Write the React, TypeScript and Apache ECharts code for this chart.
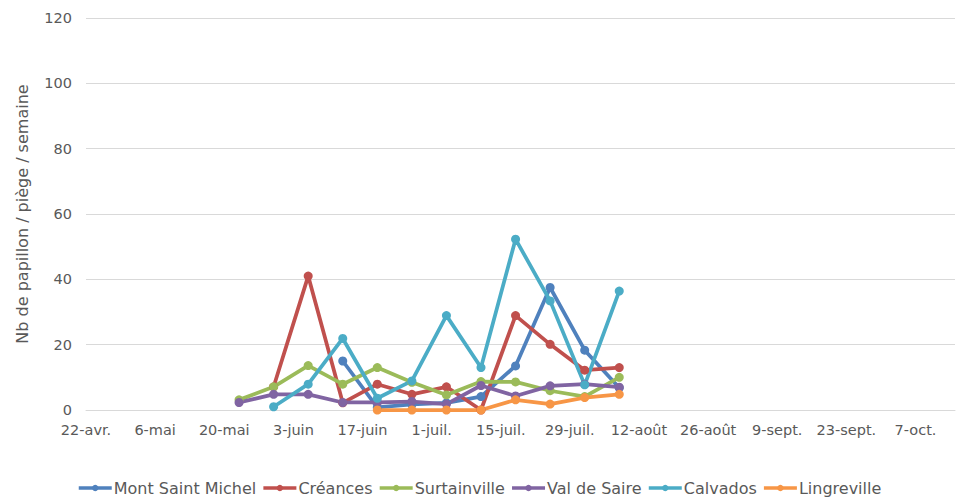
import React, { useEffect, useRef } from "react";
import * as echarts from "echarts";

const startDate = "2019-04-22";
const endDate = "2019-10-15";
const dates = [
  "2019-05-23", "2019-05-30", "2019-06-06", "2019-06-13", "2019-06-20", "2019-06-27",
  "2019-07-04", "2019-07-11", "2019-07-18", "2019-07-25", "2019-08-01", "2019-08-08",
];
const seriesNames = ["Mont Saint Michel", "Créances", "Surtainville", "Val de Saire", "Calvados", "Lingreville"];
const montSaintMichel = [null, null, null, 15, 0.8, 1.7, 2.2, 4.1, 13.5, 37.5, 18.3, 6.8];
const creances = [null, 7.1, 41, 2.2, 7.9, 4.8, 7.1, 0, 28.9, 20.1, 12.2, 13.0];
const surtainville = [3.1, 7.1, 13.6, 7.9, 13.0, 8.5, 4.6, 8.7, 8.6, 5.9, 4.1, 10.0];
const valDeSaire = [2.3, 4.8, 4.8, 2.3, 2.3, 2.6, 1.8, 7.5, 4.3, 7.4, 7.9, 7.0];
const calvados = [null, 1.0, 7.9, 21.9, 3.6, 8.9, 28.9, 13.0, 52.3, 33.4, 7.7, 36.4];
const lingreville = [null, null, null, null, 0, 0, 0, 0, 3.1, 1.8, 3.8, 4.8];
const colors = ["#4F81BD", "#C0504D", "#9BBB59", "#8064A2", "#4BACC6", "#F79646"];
const monthLabels = ["janv.", "févr.", "mars", "avr.", "mai", "juin", "juil.", "août", "sept.", "oct.", "nov.", "déc."];
const yTicks = { min: 0, max: 120, interval: 20 };

const DAY = 86400000;
const toUTC = (s: string) => {
  const [y, m, d] = s.split("-").map(Number);
  return Date.UTC(y, m - 1, d);
};
const start = toUTC(startDate);
const dayOf = (s: string) => Math.round((toUTC(s) - start) / DAY);

export default function App() {
  const ref = useRef<HTMLDivElement>(null);
  useEffect(() => {
    if (!ref.current) return;
    const chart = echarts.init(ref.current, undefined, { renderer: "svg" });
    const all = [montSaintMichel, creances, surtainville, valDeSaire, calvados, lingreville];
    const font = "DejaVu Sans";
    chart.setOption({
      animation: false,
      color: colors,
      textStyle: { fontFamily: font },
      grid: { left: 86, right: 7, top: 18, bottom: 88 },
      legend: {
        top: 480,
        left: 77,
        padding: 0,
        itemWidth: 33,
        itemHeight: 8,
        itemGap: 5.4,
        lineStyle: { width: 3.5 },
        textStyle: { fontFamily: font, fontSize: 16, color: "#595959", padding: [0, 0, 0, -3] },
        data: seriesNames,
      },
      xAxis: {
        type: "value",
        min: 0,
        max: dayOf(endDate),
        interval: 14,
        axisLine: { show: true, lineStyle: { color: "#d9d9d9", width: 1 } },
        axisTick: { show: false },
        splitLine: { show: false },
        axisLabel: {
          color: "#595959",
          fontSize: 14.5,
          fontFamily: font,
          margin: 12,
          showMaxLabel: false,
          formatter: (v: number) => {
            const d = new Date(start + v * DAY);
            return `${d.getUTCDate()}-${monthLabels[d.getUTCMonth()]}`;
          },
        },
      },
      yAxis: {
        type: "value",
        min: yTicks.min,
        max: yTicks.max,
        interval: yTicks.interval,
        name: "Nb de papillon / piège / semaine",
        nameLocation: "middle",
        nameGap: 56,
        nameTextStyle: { color: "#595959", fontSize: 16, fontFamily: font },
        axisLine: { show: false },
        axisTick: { show: false },
        splitLine: { lineStyle: { color: "#d9d9d9", width: 1 } },
        axisLabel: { color: "#595959", fontSize: 14.5, fontFamily: font, margin: 14 },
      },
      series: seriesNames.map((name, i) => ({
        name,
        type: "line",
        symbol: "circle",
        symbolSize: 9,
        lineStyle: { width: 3.75 },
        connectNulls: false,
        data: dates.map((d, j) => [dayOf(d), all[i][j]]).filter((p) => p[1] !== null),
      })),
    });
    return () => chart.dispose();
  }, []);
  return <div ref={ref} style={{ position: "absolute", left: 0, top: 0, width: 962, height: 498 }} />;
}
